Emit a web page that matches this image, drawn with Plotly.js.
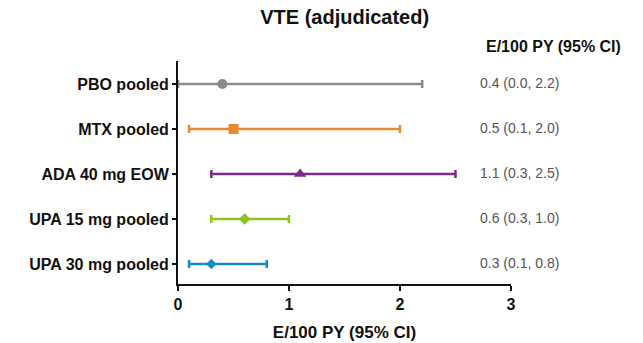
<!DOCTYPE html>
<html>
<head>
<meta charset="utf-8">
<script src="https://cdn.plot.ly/plotly-3.0.1.min.js"></script>
<style>html,body{margin:0;padding:0;background:#fff;}</style>
</head>
<body>
<div id="chart" style="width:643px;height:343px;"></div>
<script>
const categories = ["PBO pooled", "MTX pooled", "ADA 40 mg EOW", "UPA 15 mg pooled", "UPA 30 mg pooled"];
const estimates = [0.4, 0.5, 1.1, 0.6, 0.3];
const lowerCI = [0.0, 0.1, 0.3, 0.3, 0.1];
const upperCI = [2.2, 2.0, 2.5, 1.0, 0.8];
const ciLabels = ["0.4 (0.0, 2.2)", "0.5 (0.1, 2.0)", "1.1 (0.3, 2.5)", "0.6 (0.3, 1.0)", "0.3 (0.1, 0.8)"];
const colors = ["#8a8a8a", "#e8892f", "#7a2a8c", "#8cc51e", "#1a8ac4"];
const symbols = ["circle", "square", "triangle-up", "diamond", "diamond"];
const markerSizes = [10, 10, 11, 9, 8];
const xTicks = [0, 1, 2, 3];

const n = categories.length;
const yPos = categories.map((c, i) => n - 1 - i);

const traces = categories.map((c, i) => ({
  type: "scatter",
  mode: "markers",
  x: [estimates[i]],
  y: [yPos[i]],
  marker: {color: colors[i], symbol: symbols[i], size: markerSizes[i]},
  error_x: {
    type: "data",
    symmetric: false,
    array: [upperCI[i] - estimates[i]],
    arrayminus: [estimates[i] - lowerCI[i]],
    color: colors[i],
    thickness: 2.5,
    width: 4
  },
  cliponaxis: false,
  showlegend: false,
  hoverinfo: "skip"
}));

const annotations = ciLabels.map((t, i) => ({
  x: 2.7, y: yPos[i] + 0.02, xref: "x", yref: "y",
  text: t, showarrow: false, xanchor: "left", yanchor: "middle",
  font: {family: "Liberation Sans, Arial, sans-serif", size: 14, color: "#555"}
}));
annotations.push({
  x: 0.918, y: 1.063, xref: "paper", yref: "paper",
  text: "<b>E/100 PY (95% CI)</b>", showarrow: false, xanchor: "left", yanchor: "middle",
  font: {family: "Liberation Sans, Arial, sans-serif", size: 16, color: "#111"}
});

const layout = {
  width: 643, height: 343,
  margin: {l: 178, r: 132, t: 61, b: 59},
  paper_bgcolor: "#fff", plot_bgcolor: "#fff",
  font: {family: "Liberation Sans, Arial, sans-serif", color: "#111"},
  title: {
    text: "<b>VTE (adjudicated)</b>",
    font: {size: 20, color: "#111"},
    x: 0.536, xanchor: "center", y: 0.95, yanchor: "middle"
  },
  xaxis: {
    range: [0, 3], tickvals: xTicks, ticktext: xTicks.map(v => "<b>" + v + "</b>"),
    showgrid: false, zeroline: false, showline: true, linecolor: "#111", linewidth: 2,
    ticks: "outside", ticklen: 5, tickwidth: 2, tickcolor: "#111",
    tickfont: {size: 16, color: "#111"},
    title: {text: "<b>E/100 PY (95% CI)</b>", font: {size: 17, color: "#111"}, standoff: 14}
  },
  yaxis: {
    range: [-0.444, 4.511], tickvals: yPos, ticktext: categories.map(c => "<b>" + c + "</b>"),
    showgrid: false, zeroline: false, showline: true, linecolor: "#111", linewidth: 2,
    ticks: "outside", ticklen: 4, tickwidth: 2, tickcolor: "#111",
    tickfont: {size: 16, color: "#111"}
  },
  annotations: annotations
};

Plotly.newPlot("chart", traces, layout, {displayModeBar: false, staticPlot: true});
</script>
</body>
</html>
